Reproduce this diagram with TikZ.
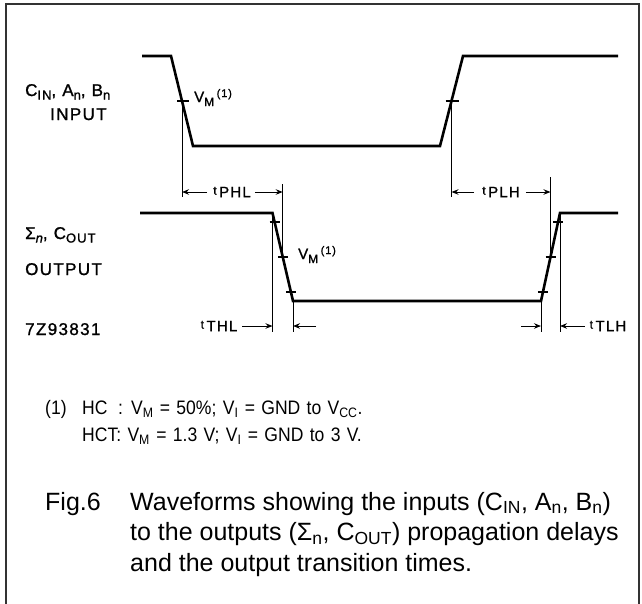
\documentclass[tikz,border=0pt]{standalone}
\usepackage{fontspec}
\setmainfont{Liberation Sans}
\newfontfamily\lblfont[FakeBold=1.2,LetterSpace=8]{Liberation Sans}
\newfontfamily\fnfont[FakeStretch=0.9,WordSpace=1.3]{Liberation Sans}
\usetikzlibrary{arrows.meta}
\newcommand\sbs[1]{\textsubscript{#1}}
\newcommand\lsub[1]{\raisebox{-3.5pt}{\fontsize{13}{13}\selectfont #1}}
\newcommand\tlab[1]{{\fontsize{12}{12}\selectfont\raisebox{2.5pt}{t}}\,{#1}}
\newcommand\vmlab{V\raisebox{-4pt}{\fontsize{12}{12}\selectfont M}\,\raisebox{5pt}{\fontsize{11}{11}\selectfont (1)}}
\begin{document}
\begin{tikzpicture}[x=1pt,y=-1pt,
  wave/.style={line width=2.6pt, line join=miter},
  guide/.style={line width=0.9pt},
  tickmark/.style={line width=1.8pt},
  dim/.style={line width=1pt,-{Stealth[length=7pt,width=5.5pt]}},
  lbl/.style={font=\lblfont\fontsize{17}{19}\selectfont, inner sep=0pt, anchor=base west},
  tl/.style={font=\lblfont\fontsize{15}{15}\selectfont, inner sep=0pt},
  vm/.style={font=\lblfont\fontsize{15}{15}\selectfont, inner sep=0pt, anchor=base west},
  fn/.style={font=\fnfont\fontsize{19.5}{23}\selectfont, inner sep=0pt, anchor=base west},
  captxt/.style={font=\fontsize{25}{30}\selectfont, inner sep=0pt, anchor=base west},
  boxframe/.style={line width=2pt, draw=black!80}
]
\useasboundingbox (0,0) rectangle (642,603);
% frame
\draw[boxframe] (6,620) -- (6,4) -- (639,4) -- (639,620);

% input waveform
\coordinate (i0) at (142,56);
\coordinate (i1) at (171,56);
\coordinate (i2) at (193,146);
\coordinate (i3) at (440,146);
\coordinate (i4) at (463,56);
\coordinate (i5) at (618,56);
\draw[wave] (i0) -- (i1) -- (i2) -- (i3) -- (i4) -- (i5);
\coordinate (ivf) at (182,101);
\coordinate (ivr) at (451.5,101);
\draw[tickmark] ([xshift=-5]ivf) -- ([xshift=7]ivf);
\draw[tickmark] ([xshift=-6]ivr) -- ([xshift=7]ivr);

% output waveform
\coordinate (o0) at (140,213);
\coordinate (o1) at (272.5,213);
\coordinate (o2) at (293,301);
\coordinate (o3) at (541,301);
\coordinate (o4) at (560,213);
\coordinate (o5) at (618,213);
\draw[wave] (o0) -- (o1) -- (o2) -- (o3) -- (o4) -- (o5);
\coordinate (ovf) at (282.75,257);
\coordinate (ovr) at (550.5,257);
\coordinate (of1) at (274.5,221.8);
\coordinate (of9) at (290.9,292.2);
\coordinate (or1) at (558.1,221.8);
\coordinate (or9) at (542.9,292.2);
\foreach \p in {ovf,ovr,of1,of9,or1,or9}
  \draw[tickmark] ([xshift=-5]\p) -- ([xshift=5]\p);

% guide lines
\draw[guide] (ivf) -- ++(0,96);
\draw[guide] (ivr) -- ++(0,96);
\draw[guide] (ovf) -- ++(0,-73);
\draw[guide] (ovr) -- ++(0,-80);
\draw[guide] (o1) -- ++(0,119);
\draw[guide] (o2) -- ++(0,31);
\draw[guide] (o3) -- ++(0,31);
\draw[guide] (o4) -- ++(0,119);

% timing labels
\node[tl] (tphl) at (232,192) {\tlab{PHL}};
\draw[dim] ([xshift=-6]tphl.west) -- (ivf |- tphl);
\draw[dim] ([xshift=4]tphl.east) -- (ovf |- tphl);
\node[tl] (tplh) at (501,192) {\tlab{PLH}};
\draw[dim] ([xshift=-8]tplh.west) -- (ivr |- tplh);
\draw[dim] ([xshift=6]tplh.east) -- (ovr |- tplh);
\node[tl] (tthl) at (219,326) {\tlab{THL}};
\draw[dim] ([xshift=5]tthl.east) -- (o1 |- tthl);
\coordinate (thlr) at (316,326);
\draw[dim] (thlr) -- (o2 |- thlr);
\node[tl] (ttlh) at (608,326) {\tlab{TLH}};
\draw[dim] ([xshift=-5]ttlh.west) -- (o4 |- ttlh);
\coordinate (tlhl) at (521,326);
\draw[dim] (tlhl) -- (o3 |- tlhl);

% VM labels
\node[vm] (vm1) at (194,102) {\vmlab};
\node[vm] (vm2) at (298,259) {\vmlab};

% signal labels
\node[lbl] (inl1) at (25,96) {C\lsub{IN}, A\lsub{n}, B\lsub{n}};
\node[lbl] (inl2) at (50,120) {INPUT};
\node[lbl] (outl1) at (25,239) {Σ\lsub{\itshape n}, C\lsub{OUT}};
\node[lbl] (outl2) at (25,275) {OUTPUT};
\node[lbl] (code) at (25,335) {7Z93831};

% footnote
\node[fn] (fn0) at (45,414) {(1)};
\node[fn] (fn1) at (82,414) {\rlap{HC}\phantom{HCT}: V\sbs{M} = 50\%; V\sbs{I} = GND to V\sbs{CC}.};
\node[fn] (fn2) at (82,441) {HCT: V\sbs{M} = 1.3 V; V\sbs{I} = GND to 3 V.};

% caption
\node[captxt] (fig) at (45,510) {Fig.6};
\node[captxt] (c1) at (130,510) {Waveforms showing the inputs (C\sbs{IN}, A\sbs{n}, B\sbs{n})};
\node[captxt] (c2) at (130,540.5) {to the outputs (Σ\sbs{n}, C\sbs{OUT}) propagation delays};
\node[captxt] (c3) at (130,571) {and the output transition times.};
\end{tikzpicture}
\end{document}
